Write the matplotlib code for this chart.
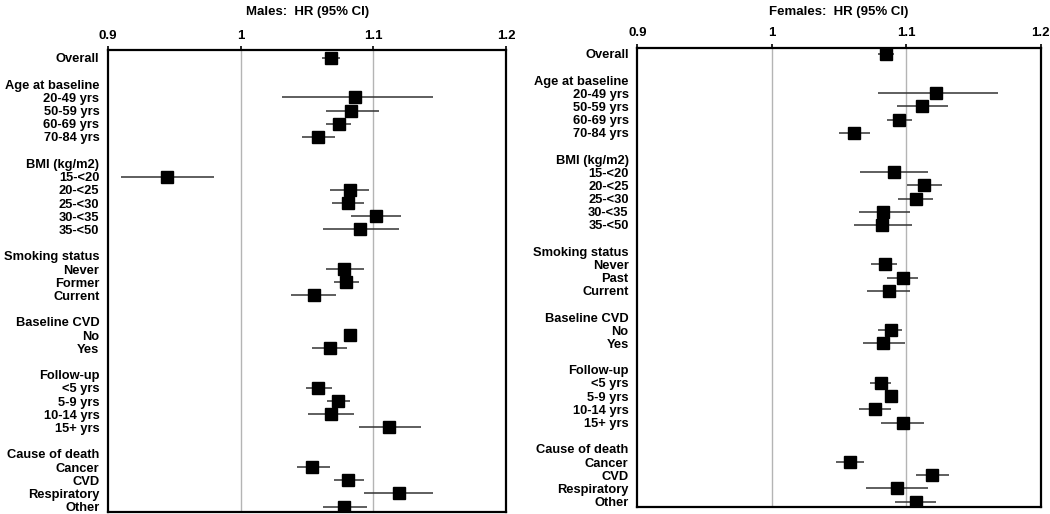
import matplotlib
matplotlib.use("Agg")
import matplotlib.pyplot as plt

plt.rcParams['font.family'] = ['Liberation Sans', 'DejaVu Sans']
plt.rcParams['font.weight'] = 'bold'

# Groups and their row labels (same for both panels except smoking)
groups = [
    ("Age at baseline", ["20-49 yrs", "50-59 yrs", "60-69 yrs", "70-84 yrs"]),
    ("BMI (kg/m2)", ["15-<20", "20-<25", "25-<30", "30-<35", "35-<50"]),
    ("Smoking status", ["Never", "Former", "Current"]),
    ("Baseline CVD", ["No", "Yes"]),
    ("Follow-up", ["<5 yrs", "5-9 yrs", "10-14 yrs", "15+ yrs"]),
    ("Cause of death", ["Cancer", "CVD", "Respiratory", "Other"]),
]

# Males: HR, lower, upper (Overall first, then subgroups in order)
male_hr = [1.068,
           1.086, 1.083, 1.074, 1.058,
           0.944, 1.082, 1.081, 1.102, 1.090,
           1.078, 1.079, 1.055,
           1.082, 1.067,
           1.058, 1.073, 1.068, 1.112,
           1.054, 1.081, 1.119, 1.078]
male_lo = [1.061,
           1.031, 1.064, 1.064, 1.046,
           0.910, 1.067, 1.069, 1.083, 1.062,
           1.064, 1.070, 1.038,
           1.078, 1.054,
           1.049, 1.065, 1.051, 1.089,
           1.042, 1.070, 1.093, 1.062]
male_hi = [1.075,
           1.145, 1.104, 1.083, 1.071,
           0.980, 1.097, 1.093, 1.121, 1.119,
           1.093, 1.089, 1.072,
           1.085, 1.080,
           1.069, 1.082, 1.085, 1.136,
           1.067, 1.093, 1.145, 1.095]

# Females
female_hr = [1.085,
             1.122, 1.112, 1.095, 1.061,
             1.091, 1.113, 1.107, 1.083, 1.082,
             1.084, 1.098, 1.087,
             1.089, 1.083,
             1.081, 1.089, 1.077, 1.098,
             1.058, 1.119, 1.093, 1.107]
female_lo = [1.079,
             1.079, 1.093, 1.086, 1.050,
             1.066, 1.101, 1.094, 1.065, 1.061,
             1.074, 1.086, 1.071,
             1.079, 1.068,
             1.073, 1.085, 1.065, 1.081,
             1.048, 1.107, 1.070, 1.092]
female_hi = [1.091,
             1.168, 1.131, 1.104, 1.073,
             1.116, 1.127, 1.120, 1.103, 1.104,
             1.093, 1.109, 1.103,
             1.097, 1.099,
             1.089, 1.093, 1.089, 1.113,
             1.069, 1.132, 1.116, 1.122]

xticks = [0.9, 1.0, 1.1, 1.2]
xtick_labels = ["0.9", "1", "1.1", "1.2"]


def build_rows(groups, smoking_past=False):
    """Row positions for the data points and every y label."""
    label_rows = [(0, "Overall")]
    data_rows = [0]
    row = 2
    for header, items in groups:
        label_rows.append((row, header))
        row += 1
        for it in items:
            if smoking_past and it == "Former":
                it = "Past"
            label_rows.append((row, it))
            data_rows.append(row)
            row += 1
        row += 1
    return label_rows, data_rows


def forest(ax, title, hr, lo, hi, smoking_past, ylim):
    label_rows, data_rows = build_rows(groups, smoking_past)
    for x in [1.0, 1.1]:
        ax.axvline(x, color='#b4b4b4', lw=1.0, zorder=0)
    ax.hlines(data_rows, lo, hi, color='#333333', lw=1.1, zorder=2)
    ax.plot(hr, data_rows, 's', color='black', markersize=8, zorder=3)

    ax.set_xlim(0.9, 1.2)
    ax.set_ylim(*ylim)
    ax.xaxis.tick_top()
    ax.set_xticks(xticks)
    ax.set_xticklabels(xtick_labels, fontsize=9.5, fontweight='bold')
    ax.tick_params(axis='x', length=3, width=1.2, pad=3)
    ax.set_yticks([r for r, _ in label_rows])
    ax.set_yticklabels([t for _, t in label_rows], fontsize=9.3,
                       fontweight='bold')
    ax.tick_params(axis='y', length=0, pad=6.3)
    for sp in ax.spines.values():
        sp.set_linewidth(1.6)
    pos = ax.get_position()
    fig.text((pos.x0 + pos.x1) / 2, 0.977, title, ha='center', va='center',
             fontsize=9.5, fontweight='bold')


fig = plt.figure(figsize=(10.5, 5.14), dpi=100)
ax1 = fig.add_axes([0.103, 0.004, 0.379, 0.899])
ax2 = fig.add_axes([0.607, 0.014, 0.384, 0.893])

forest(ax1, "Males:  HR (95% CI)", male_hr, male_lo, male_hi, False,
       (34.4, -0.6))
forest(ax2, "Females:  HR (95% CI)", female_hr, female_lo, female_hi, True,
       (34.4, -0.45))

fig.savefig("out.png", dpi=100)
